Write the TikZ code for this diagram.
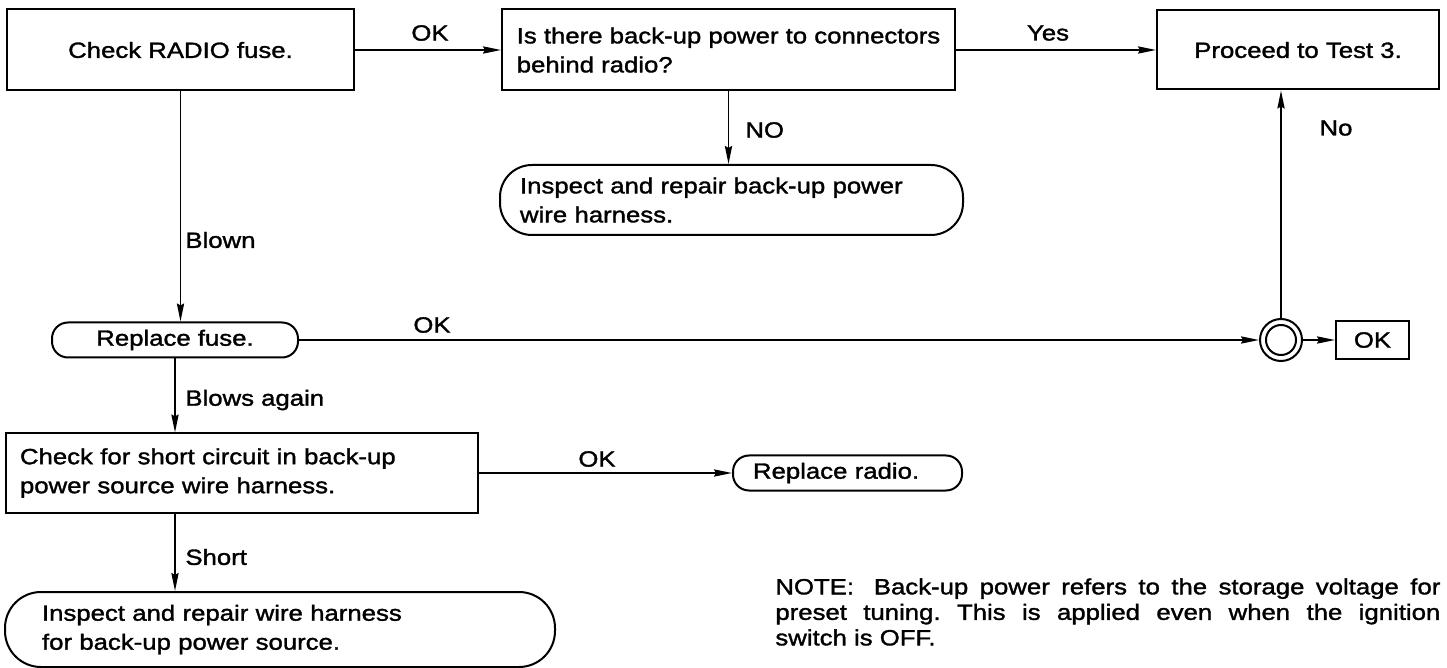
\documentclass[tikz,border=0pt]{standalone}
\usepackage{fontspec}
\setmainfont{Liberation Sans}[FakeStretch=1.17,FakeBold=1.5]
\usetikzlibrary{arrows.meta}
\frenchspacing
\begin{document}
\begin{tikzpicture}[x=0.5pt,y=-0.5pt,
  every node/.style={font=\fontsize{11}{14.5}\selectfont},
  box/.style={draw, line width=1pt},
  rbox/.style={draw, line width=1pt, rounded corners=#1},
  arr/.style={line width=0.9pt, -{Stealth[length=9pt,width=3.6pt,inset=1pt]}},
  lbl/.style={inner sep=1pt}
]
\useasboundingbox (0,0) rectangle (1447,668);
% boxes
\node[box, minimum width=173.5pt, minimum height=40.5pt] (b1) at (180.5,50) {Check RADIO fuse.};
\node[box, minimum width=226.5pt, minimum height=40.5pt, align=left] (b2) at (728.5,50) {Is there back-up power to connectors\\behind radio?};
\node[box, minimum width=141pt, minimum height=39.5pt] (b3) at (1298,50) {Proceed to Test 3.};
\node[rbox=16pt, minimum width=231.5pt, minimum height=35pt, text width=211.5pt, align=left, inner xsep=10pt] (i1) at (731.5,200) {Inspect and repair back-up power\\wire harness.};
\node[rbox=8pt, minimum width=123pt, minimum height=17.5pt] (rf) at (175,340) {Replace fuse.};
\node[draw, circle, line width=1pt, minimum size=21pt, inner sep=0pt] (c) at (1281,340) {};
\node[draw, circle, line width=1pt, minimum size=15pt, inner sep=0pt] (ci) at (c) {};
\node[box, minimum width=36.5pt, minimum height=19pt] (ok) at (1372.5,340) {OK};
\node[box, minimum width=236pt, minimum height=39.5pt, text width=222pt, align=left, inner xsep=7pt] (b4) at (242,473) {Check for short circuit in back-up\\power source wire harness.};
\node[rbox=8pt, minimum width=114.5pt, minimum height=17.5pt, text width=94.5pt, inner xsep=10pt, align=left] (rr) at (847.5,473) {Replace radio.};
\node[rbox=18pt, minimum width=275pt, minimum height=37.5pt, text width=238pt, inner xsep=18.5pt, align=left] (i2) at (280,629.5) {Inspect and repair wire harness\\for back-up power source.};
% note
\node[text width=332.5pt, align=justify, anchor=north west, inner sep=0pt, font=\fontsize{11}{12.75}\selectfont] (note) at (775,578)
  {NOTE:\hspace{0.9em}Back-up power refers to the storage voltage for\linebreak preset tuning. This is applied even when the ignition\linebreak switch is OFF.};
% connectors
\draw[arr] (b1.east) -- (b2.west);
\draw[arr] (b2.east) -- (b3.west);
\draw[arr] (b2.south) -- (b2.south |- i1.north);
\draw[arr] (b1.south) -- (b1.south |- rf.north);
\draw[arr] (rf.east) -- (c.west);
\draw[arr] (c.north) -- (c.north |- b3.south);
\draw[arr] (c.east) -- (ok.west);
\draw[arr] (rf.south) -- (rf.south |- b4.north);
\draw[arr] (b4.south -| rf.south) -- (rf.south |- i2.north);
\draw[arr] (b4.east) -- (rr.west);
% labels
\node[lbl] (lok1) at (430,33) {OK};
\node[lbl] (lyes) at (1048,33) {Yes};
\node[lbl, anchor=west] (lno) at (743,130) {NO};
\node[lbl] (lno2) at (1336,128) {No};
\node[lbl, anchor=west] (lblown) at (183,240) {Blown};
\node[lbl] (lok2) at (432,325) {OK};
\node[lbl, anchor=west] (lagain) at (183,400) {Blows again};
\node[lbl] (lok3) at (597,459) {OK};
\node[lbl, anchor=west] (lshort) at (183,557) {Short};
\end{tikzpicture}
\end{document}
